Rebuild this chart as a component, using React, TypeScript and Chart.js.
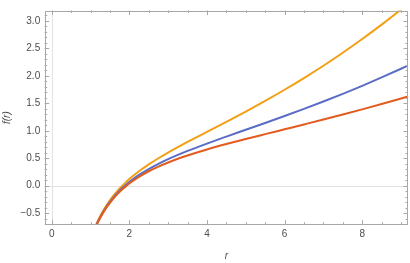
import React, { useEffect, useRef } from "react";
import { Chart, registerables } from "chart.js";

Chart.register(...registerables);

const rValues = [1.1, 1.2, 1.3, 1.4, 1.5, 1.6, 1.7, 1.8, 1.9, 2.0, 2.1, 2.25, 2.5, 2.75, 3.0, 3.25, 3.5, 4.0, 4.5, 5.0, 5.5, 6.0, 6.5, 7.0, 7.5, 8.0, 8.5, 9.0, 9.2];
const orangeValues = [-0.782, -0.623, -0.488, -0.37, -0.266, -0.173, -0.09, -0.014, 0.056, 0.12, 0.18, 0.263, 0.388, 0.5, 0.603, 0.701, 0.796, 0.98, 1.163, 1.35, 1.544, 1.747, 1.96, 2.184, 2.421, 2.67, 2.932, 3.208, 3.322];
const blueValues = [-0.798, -0.643, -0.51, -0.396, -0.296, -0.207, -0.128, -0.057, 0.008, 0.067, 0.121, 0.196, 0.304, 0.399, 0.484, 0.561, 0.633, 0.767, 0.894, 1.018, 1.142, 1.268, 1.398, 1.533, 1.673, 1.819, 1.971, 2.13, 2.196];
const redValues = [-0.806, -0.652, -0.522, -0.409, -0.311, -0.224, -0.148, -0.079, -0.017, 0.04, 0.092, 0.162, 0.263, 0.348, 0.423, 0.49, 0.551, 0.66, 0.758, 0.85, 0.939, 1.027, 1.115, 1.204, 1.296, 1.39, 1.487, 1.588, 1.629];

const xTickLabels = [0, 2, 4, 6, 8];
const yTickLabels = [-0.5, 0, 0.5, 1.0, 1.5, 2.0, 2.5, 3.0];

const X_MIN = -0.18, X_MAX = 9.18, Y_MIN = -0.71, Y_MAX = 3.19;

const toPts = (ys: number[]) => rValues.map((x, i) => ({ x, y: ys[i] }));

const framePlugin = {
  id: "frame",
  beforeDatasetsDraw(chart: any) {
    const { ctx, chartArea: a, scales } = chart;
    const xs = scales.x, ys = scales.y;
    ctx.save();
    ctx.strokeStyle = "#e2e2e2";
    ctx.lineWidth = 1;
    const x0 = Math.round(xs.getPixelForValue(0)) + 0.5;
    const y0 = Math.round(ys.getPixelForValue(0)) + 0.5;
    ctx.beginPath();
    ctx.moveTo(x0, a.top); ctx.lineTo(x0, a.bottom);
    ctx.moveTo(a.left, y0); ctx.lineTo(a.right, y0);
    ctx.stroke();
    ctx.restore();
  },
  afterDraw(chart: any) {
    const { ctx, chartArea: a, scales } = chart;
    const xs = scales.x, ys = scales.y;
    ctx.save();
    ctx.strokeStyle = "#a8a8a8";
    ctx.lineWidth = 1;
    ctx.strokeRect(Math.round(a.left) + 0.5, Math.round(a.top) + 0.5, Math.round(a.right - a.left) - 1, Math.round(a.bottom - a.top) - 1);
    ctx.beginPath();
    for (let i = 0; i <= 18; i++) {
      const v = i * 0.5;
      const major = i % 4 === 0;
      const len = major ? 4.5 : 2.5;
      const px = Math.round(xs.getPixelForValue(v)) + 0.5;
      if (px < a.left || px > a.right) continue;
      ctx.moveTo(px, a.bottom); ctx.lineTo(px, a.bottom - len);
      ctx.moveTo(px, a.top); ctx.lineTo(px, a.top + len);
    }
    for (let i = -7; i <= 31; i++) {
      const v = i * 0.1;
      const major = i % 5 === 0;
      const len = major ? 4.5 : 2.5;
      const py = Math.round(ys.getPixelForValue(v)) + 0.5;
      if (py < a.top || py > a.bottom) continue;
      ctx.moveTo(a.left, py); ctx.lineTo(a.left + len, py);
      ctx.moveTo(a.right, py); ctx.lineTo(a.right - len, py);
    }
    ctx.stroke();
    ctx.fillStyle = "#4d4d4d";
    ctx.textAlign = "center";
    ctx.textBaseline = "middle";
    ctx.font = "italic 10px 'Liberation Sans', Arial, sans-serif";
    ctx.fillText("r", (a.left + a.right) / 2, 256);
    ctx.save();
    ctx.translate(7, (a.top + a.bottom) / 2);
    ctx.rotate(-Math.PI / 2);
    ctx.fillText("f(r)", 0, 0);
    ctx.restore();
    ctx.restore();
  },
};

export default function App() {
  const ref = useRef<HTMLCanvasElement | null>(null);
  useEffect(() => {
    document.body.style.margin = "0";
    const mk = (data: number[], color: string) => ({
      data: toPts(data),
      borderColor: color,
      borderWidth: 2,
      pointRadius: 0,
      fill: false,
      cubicInterpolationMode: "monotone" as const,
    });
    const chart = new Chart(ref.current as HTMLCanvasElement, {
      type: "line",
      data: {
        datasets: [
          mk(redValues, "#e25c1f"),
          mk(blueValues, "#5b6cc6"),
          mk(orangeValues, "#f29f14"),
        ],
      },
      options: {
        animation: false,
        responsive: false,
        layout: { padding: { left: 0, right: 2, top: 1, bottom: 0 } },
        plugins: { legend: { display: false }, tooltip: { enabled: false } },
        scales: {
          x: {
            type: "linear",
            min: X_MIN,
            max: X_MAX,
            grid: { display: false, drawTicks: false, tickLength: 0 },
            border: { display: false },
            afterBuildTicks: (s: any) => { s.ticks = xTickLabels.map((v) => ({ value: v })); },
            afterFit: (s: any) => { s.height = 38.3; },
            ticks: {
              padding: 4,
              color: "#4d4d4d",
              font: { family: "'Liberation Sans', Arial, sans-serif", size: 10 },
              callback: (v: any) => String(v),
              maxRotation: 0,
            },
          },
          y: {
            type: "linear",
            min: Y_MIN,
            max: Y_MAX,
            grid: { display: false, drawTicks: false, tickLength: 0 },
            border: { display: false },
            afterBuildTicks: (s: any) => { s.ticks = yTickLabels.map((v) => ({ value: v })); },
            afterFit: (s: any) => { s.width = 44.7; },
            ticks: {
              padding: 4.5,
              color: "#4d4d4d",
              font: { family: "'Liberation Sans', Arial, sans-serif", size: 10 },
              callback: (v: any) => (Number(v) < 0 ? "\u2212" : "") + Math.abs(Number(v)).toFixed(1),
            },
          },
        },
      },
      plugins: [framePlugin],
    });
    return () => chart.destroy();
  }, []);
  return (
    <div style={{ position: "absolute", left: 0, top: 0, width: 410, height: 263 }}>
      <canvas ref={ref} width={410} height={263} style={{ width: 410, height: 263, display: "block" }} />
    </div>
  );
}
